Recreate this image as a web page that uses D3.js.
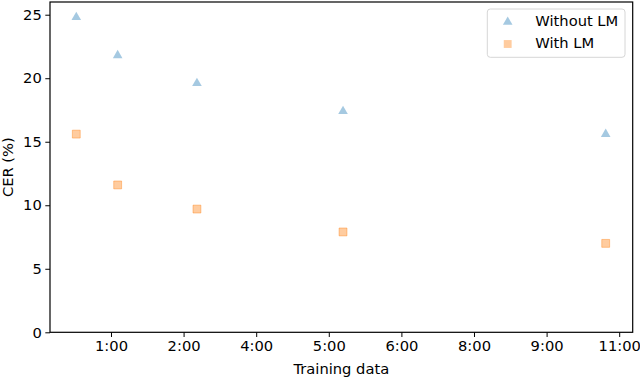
<!DOCTYPE html>
<html>
<head>
<meta charset="utf-8">
<script src="https://cdn.jsdelivr.net/npm/d3@7"></script>
<style>
  body { margin: 0; background: #fff; }
  svg { display: block; font-family: "DejaVu Sans", sans-serif; }
</style>
</head>
<body>
<div id="container"></div>
<script>
// training data in seconds
var trainingSecs = [2610, 5460, 10920, 20980, 39070]
var withoutLM = [24.8, 21.8, 19.6, 17.4, 15.6]
var withLM = [15.6, 11.6, 9.7, 7.9, 7.0]
var xTicks = [5000, 10000, 15000, 20000, 25000, 30000, 35000, 40000]
var yTicks = [0, 5, 10, 15, 20, 25]
var seriesNames = ["Without LM", "With LM"]

const width = 640, height = 377
const margin = {top: 2, right: 7.3, bottom: 44.7, left: 50}
const fs = '14.7px'

const svg = d3.select('#container')
  .append('svg')
  .attr('width', width)
  .attr('height', height)

const x = d3.scaleLinear()
  .domain([800, 40930])
  .range([margin.left, width - margin.right])

const y = d3.scaleLinear()
  .domain([0, 26])
  .range([height - margin.bottom, margin.top])

// format seconds as h:00 (floored hours)
const fmt = d => Math.floor(d / 3600) + ':00'

svg.append('g')
  .attr('transform', `translate(0, ${height - margin.bottom})`)
  .call(d3.axisBottom(x).tickValues(xTicks).tickFormat(fmt).tickSize(4.7).tickPadding(3.5))

svg.append('g')
  .attr('transform', `translate(${margin.left}, 0)`)
  .call(d3.axisLeft(y).tickValues(yTicks).tickSize(4.7).tickPadding(3.5))

svg.selectAll('.tick text')
  .style('font-size', fs)
  .style('font-family', '"DejaVu Sans", sans-serif')
  .attr('fill', '#000')
svg.selectAll('.tick line').attr('stroke', '#000').attr('stroke-width', 1)
svg.selectAll('.domain').remove()

// frame
svg.append('rect')
  .attr('x', margin.left)
  .attr('y', margin.top)
  .attr('width', width - margin.right - margin.left)
  .attr('height', height - margin.bottom - margin.top)
  .attr('fill', 'none')
  .attr('stroke', '#000')
  .attr('stroke-width', 1.2)

const blue = 'rgba(31,119,180,0.4)'
const orange = 'rgba(255,127,14,0.4)'
const tri = d3.symbol().type(d3.symbolTriangle).size(40)
const sq = d3.symbol().type(d3.symbolSquare).size(62)

svg.append('g').selectAll('path')
  .data(trainingSecs.map((t, i) => ({t: t, v: withoutLM[i]})))
  .enter()
  .append('path')
  .attr('d', tri)
  .attr('transform', d => `translate(${x(d.t)}, ${y(d.v)})`)
  .attr('fill', blue)

svg.append('g').selectAll('path')
  .data(trainingSecs.map((t, i) => ({t: t, v: withLM[i]})))
  .enter()
  .append('path')
  .attr('d', sq)
  .attr('transform', d => `translate(${x(d.t)}, ${y(d.v)})`)
  .attr('fill', orange)
  .attr('stroke', orange)
  .attr('stroke-width', 1)

// axis labels
svg.append('text')
  .attr('x', (margin.left + width - margin.right) / 2)
  .attr('y', 373.7)
  .style('text-anchor', 'middle')
  .style('font-size', fs)
  .text('Training data')

svg.append('text')
  .attr('transform', `translate(13.3, ${(margin.top + height - margin.bottom) / 2}) rotate(-90)`)
  .style('text-anchor', 'middle')
  .style('font-size', fs)
  .text('CER (%)')

// legend
const legend = svg.append('g')
legend.append('rect')
  .attr('x', 487.3)
  .attr('y', 9)
  .attr('width', 137.7)
  .attr('height', 48.3)
  .attr('rx', 3)
  .attr('fill', 'rgba(255,255,255,0.8)')
  .attr('stroke', '#d6d6d6')
  .attr('stroke-width', 1)

const rows = [
  {name: seriesNames[0], sym: tri, color: blue, cy: 21},
  {name: seriesNames[1], sym: sq, color: orange, cy: 43}
]
rows.forEach(function(r){
  legend.append('path')
    .attr('d', r.sym)
    .attr('transform', `translate(507.7, ${r.cy + 1})`)
    .attr('fill', r.color)
  legend.append('text')
    .attr('x', 535.3)
    .attr('y', r.cy)
    .attr('dy', '0.35em')
    .style('font-size', fs)
    .text(r.name)
})
</script>
</body>
</html>
